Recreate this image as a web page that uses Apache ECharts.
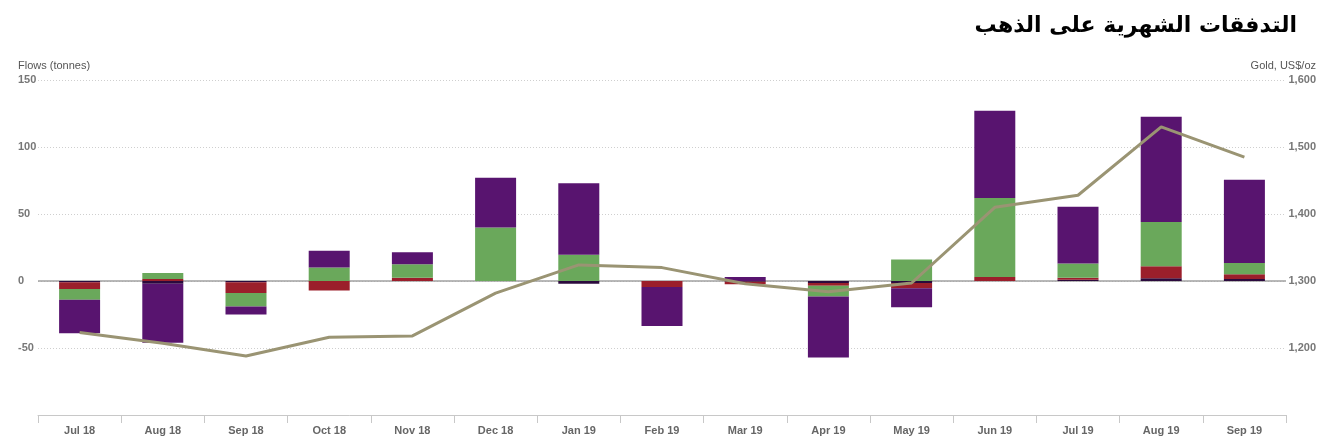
<!DOCTYPE html>
<html>
<head>
<meta charset="utf-8">
<script src="https://cdn.jsdelivr.net/npm/echarts@6/dist/echarts.min.js"></script>
<style>
html,body{margin:0;padding:0;background:#fff;}
#c{width:1332px;height:443px;}
</style>
</head>
<body>
<div id="c"></div>
<script>
const categories = ['Jul 18','Aug 18','Sep 18','Oct 18','Nov 18','Dec 18','Jan 19','Feb 19','Mar 19','Apr 19','May 19','Jun 19','Jul 19','Aug 19','Sep 19'];
const seriesDark   = [-1, -2, -1, 0, 0, 0, -2, 0, -0.5, -1.5, -1.5, 0, 1, 2, 1.5];
const seriesRed    = [-5, 1.5, -8, -7, 2.5, 0, 0, -4.5, -2, -2, -4, 3, 1.5, 9, 3.5];
const seriesGreen  = [-8, 4.5, -10, 10, 10, 40, 19.5, 0, 0, -8, 16, 59, 10.5, 33, 8.5];
const seriesPurple = [-25, -44, -6, 12.5, 9, 37, 53.5, -29, 3, -45.5, -14, 65, 42.5, 78.5, 62];
const goldPrice    = [1223, 1207, 1188, 1216, 1218, 1282, 1324, 1320, 1296, 1284, 1297, 1410, 1428, 1530, 1485];
const leftTicks = {min: -100, max: 150, interval: 50};
const rightTicks = {min: 1100, max: 1600, interval: 100};

const chart = echarts.init(document.getElementById('c'));
const fontFam = '"Liberation Sans", Arial, sans-serif';
function bar(name, data, color) {
  return {
    name, type: 'bar', stack: 'flows', data, barWidth: 41,
    itemStyle: {color},
    yAxisIndex: 0, z: 2
  };
}
const seriesList = [
  bar('Dark', seriesDark, '#2b0a3d'),
  bar('Red', seriesRed, '#9b1f2b'),
  bar('Green', seriesGreen, '#6aa85b'),
  bar('Purple', seriesPurple, '#58146f'),
  {
    name: 'Gold', type: 'line', yAxisIndex: 1, data: goldPrice,
    showSymbol: false, symbol: 'none',
    lineStyle: {color: '#9a9473', width: 3},
    itemStyle: {color: '#9a9473'}, z: 5
  }
];
seriesList[0].markLine = {
  silent: true, symbol: 'none', label: {show: false},
  lineStyle: {color: '#a0a0a0', type: 'solid', width: 1.5},
  data: [{yAxis: 0}], z: 1
};
chart.setOption({
  animation: false,
  backgroundColor: '#ffffff',
  title: {
    text: 'التدفقات الشهرية على الذهب',
    right: 30, top: 10,
    textStyle: {fontFamily: '"DejaVu Sans", sans-serif', fontSize: 22, fontWeight: 'bold', color: '#000'}
  },
  grid: {left: 38, right: 46, top: 80, bottom: 28},
  xAxis: {
    type: 'category', data: categories,
    axisLine: {show: true, onZero: false, lineStyle: {color: '#c8c8c8', width: 1}},
    axisTick: {show: true, length: 8, lineStyle: {color: '#c8c8c8'}},
    axisLabel: {color: '#666', fontFamily: fontFam, fontSize: 11, fontWeight: 'bold', margin: 10},
    splitLine: {show: false}
  },
  yAxis: [
    {
      type: 'value', position: 'left',
      min: leftTicks.min, max: leftTicks.max, interval: leftTicks.interval,
      name: 'Flows (tonnes)', nameLocation: 'end', nameGap: 9,
      nameTextStyle: {color: '#555', fontFamily: fontFam, fontSize: 11, align: 'left', padding: [0, 0, 0, -20]},
      axisLine: {show: false}, axisTick: {show: false},
      axisLabel: {
        color: '#777', fontFamily: fontFam, fontSize: 11, fontWeight: 'bold', align: 'left', margin: 20,
        formatter: v => v === leftTicks.min ? '' : String(v)
      },
      splitLine: {show: true, lineStyle: {color: '#cfcfcf', type: [1, 2], width: 1}}
    },
    {
      type: 'value', position: 'right',
      min: rightTicks.min, max: rightTicks.max, interval: rightTicks.interval,
      name: 'Gold, US$/oz', nameLocation: 'end', nameGap: 9,
      nameTextStyle: {color: '#555', fontFamily: fontFam, fontSize: 11, align: 'right', padding: [0, -30, 0, 0]},
      axisLine: {show: false}, axisTick: {show: false},
      axisLabel: {
        color: '#777', fontFamily: fontFam, fontSize: 11, fontWeight: 'bold', align: 'right', margin: 30,
        formatter: v => v === rightTicks.min ? '' : v.toLocaleString('en-US')
      },
      splitLine: {show: false}
    }
  ],
  series: seriesList
});
</script>
</body>
</html>
